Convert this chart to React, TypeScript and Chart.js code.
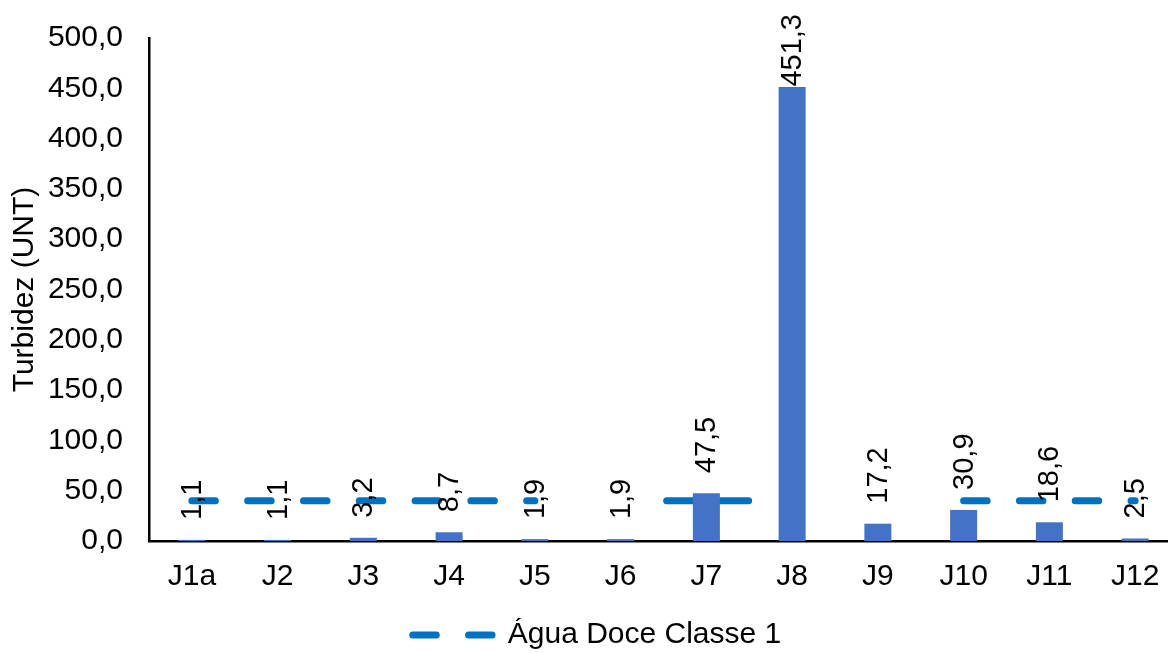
import { useEffect, useRef } from "react";
import { Chart, registerables } from "chart.js";

Chart.register(...registerables);

const categories = ["J1a", "J2", "J3", "J4", "J5", "J6", "J7", "J8", "J9", "J10", "J11", "J12"];
const turbidity = [1.1, 1.1, 3.2, 8.7, 1.9, 1.9, 47.5, 451.3, 17.2, 30.9, 18.6, 2.5];
const limitClass1 = [40, 40, 40, 40, 40, 40, 40, 40, 40, 40, 40, 40];
const yMin = 0;
const yMax = 500;
const yStep = 50;
const barLabel = "Turbidez";
const limitLabel = "Água Doce Classe 1";
const yTitle = "Turbidez (UNT)";

const FONT = "'Liberation Sans', Arial, Helvetica, sans-serif";
const FS = 30;
const LINE_DASH = [23.5, 32.3];
const LINE_COLOR = "#0070C0";
const LINE_WIDTH = 7;
const fmt = (v: number) => v.toFixed(1).replace(".", ",");

// segment groups of the dashed limit line: A = normal dash, H = hidden, B = single long dash
const segGroup = (i: number) => (i <= 3 ? "A" : i === 4 ? "H" : i <= 6 ? "B" : i <= 8 ? "H" : "A");

const barLabels = {
  id: "barLabels",
  afterDatasetsDraw(chart: any) {
    const meta = chart.getDatasetMeta(0);
    const ctx = chart.ctx;
    ctx.save();
    ctx.font = `29px ${FONT}`;
    ctx.fillStyle = "#000";
    ctx.textAlign = "left";
    ctx.textBaseline = "middle";
    meta.data.forEach((el: any, i: number) => {
      const text = fmt(turbidity[i]);
      const w = ctx.measureText(text).width;
      const bottom = Math.max(el.y - 20, 14 + w);
      ctx.save();
      ctx.translate(el.x + 1, bottom);
      ctx.rotate(-Math.PI / 2);
      ctx.fillText(text, 0, 0);
      ctx.restore();
    });
    ctx.restore();
  },
};

export default function App() {
  const ref = useRef<HTMLCanvasElement | null>(null);

  useEffect(() => {
    document.body.style.margin = "0";
    const canvas = ref.current;
    if (!canvas) return;
    const chart = new Chart(canvas, {
      type: "bar",
      data: {
        labels: categories,
        datasets: [
          {
            type: "bar",
            label: barLabel,
            data: turbidity,
            backgroundColor: "#4472C4",
            borderWidth: 0,
            barPercentage: 0.315,
            categoryPercentage: 1,
            order: 0,
          },
          {
            type: "line",
            label: limitLabel,
            data: limitClass1,
            borderColor: LINE_COLOR,
            backgroundColor: LINE_COLOR,
            borderWidth: LINE_WIDTH,
            borderCapStyle: "round",
            borderDash: LINE_DASH,
            pointRadius: 0,
            pointHoverRadius: 0,
            tension: 0,
            fill: false,
            order: 1,
            segment: {
              borderColor: (c: any) => (segGroup(c.p0DataIndex) === "H" ? "rgba(0,0,0,0)" : undefined),
              borderDash: (c: any) => {
                if (segGroup(c.p0DataIndex) !== "B") return undefined;
                const d = Math.round(c.p1.x - c.p0.x);
                return [Math.round(0.95 * d), 20 * d];
              },
              borderDashOffset: (c: any) => {
                if (segGroup(c.p0DataIndex) !== "B") return undefined;
                const d = Math.round(c.p1.x - c.p0.x);
                return Math.round(0.95 * d) + 20 * d - Math.round(0.535 * d);
              },
            },
          } as any,
        ],
      },
      options: {
        responsive: false,
        animation: false,
        events: [],
        layout: { padding: { top: 38, left: 16, right: 0, bottom: 0 } },
        scales: {
          x: {
            offset: true,
            grid: { display: false, drawTicks: false },
            border: { display: true, color: "#000", width: 2.5 },
            ticks: { color: "#000", font: { family: FONT, size: FS }, padding: 18, maxRotation: 0, autoSkip: false },
            afterFit: (s: any) => {
              s.height = 77;
            },
          },
          y: {
            min: yMin,
            max: yMax,
            grid: { display: false, drawTicks: true, tickLength: 18 },
            border: { display: true, color: "#000", width: 2.5 },
            ticks: {
              stepSize: yStep,
              color: "#000",
              font: { family: FONT, size: FS },
              padding: 8,
              callback: (v: any) => fmt(Number(v)),
            },
            title: {
              display: true,
              text: yTitle,
              color: "#000",
              font: { family: FONT, size: FS },
              padding: { top: -9, bottom: 0 },
            },
            afterFit: (s: any) => {
              s.width = 133;
            },
          },
        },
        plugins: {
          tooltip: { enabled: false },
          title: { display: false },
          legend: {
            display: true,
            position: "bottom",
            labels: {
              color: "#000",
              font: { family: FONT, size: FS },
              usePointStyle: true,
              pointStyle: "line",
              pointStyleWidth: 80,
              padding: 2,
              filter: (item: any) => item.datasetIndex === 1,
              generateLabels: (ch: any) => {
                const items = Chart.defaults.plugins.legend.labels.generateLabels(ch);
                return items.map((it: any) =>
                  it.datasetIndex === 1
                    ? {
                        ...it,
                        pointStyle: "line",
                        lineDash: LINE_DASH,
                        lineDashOffset: 0,
                        lineCap: "round",
                        lineWidth: LINE_WIDTH,
                        strokeStyle: LINE_COLOR,
                        fillStyle: LINE_COLOR,
                      }
                    : it
                );
              },
            },
          },
        },
      },
      plugins: [barLabels],
    });
    return () => chart.destroy();
  }, []);

  return (
    <div style={{ width: 1168, height: 653, overflow: "hidden", position: "relative", background: "#fff" }}>
      <canvas ref={ref} width={1178} height={660} style={{ display: "block", width: 1178, height: 660 }} />
    </div>
  );
}
